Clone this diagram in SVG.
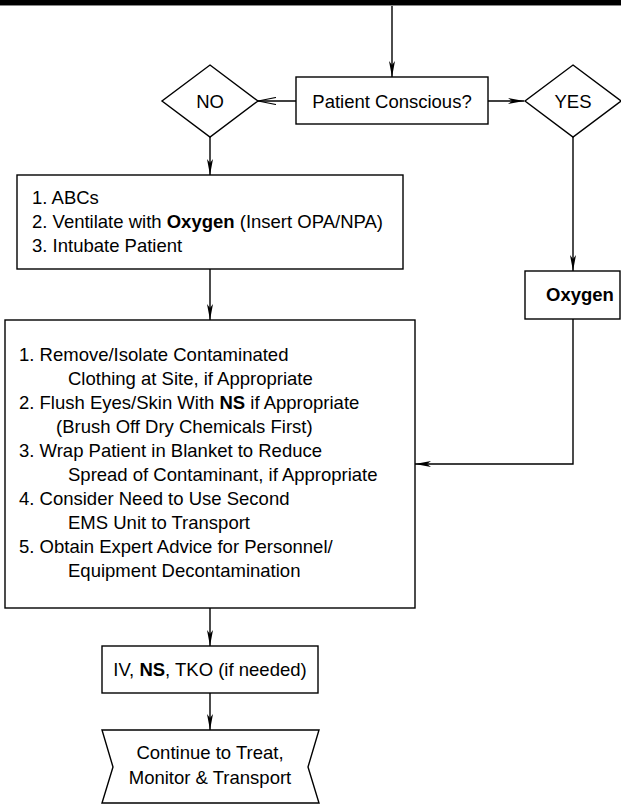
<svg xmlns="http://www.w3.org/2000/svg" width="621" height="804" viewBox="0 0 621 804">
<defs>
<style>
.box{fill:#fff;stroke:#000;stroke-width:1.4}
.ln{fill:none;stroke:#000;stroke-width:1.4}
text{font-family:"Liberation Sans",Arial,sans-serif;font-size:18.5px;fill:#000}
.c{text-anchor:middle}
.b{font-weight:bold}
</style>
<marker id="ah" viewBox="0 0 16 6" refX="16" refY="3" markerWidth="16" markerHeight="6" markerUnits="userSpaceOnUse" orient="auto">
<path d="M0,0 L16,3 L0,6 L4,3 z" fill="#000"/>
</marker>
<marker id="oa" viewBox="0 0 18 8" refX="18" refY="4" markerWidth="18" markerHeight="8" markerUnits="userSpaceOnUse" orient="auto">
<path d="M0,0.5 L18,4 L0,7.5" fill="none" stroke="#000" stroke-width="1.2"/>
</marker>
</defs>
<rect x="0" y="0" width="621" height="5" fill="#000"/>
<line x1="0" y1="5.5" x2="621" y2="5.5" stroke="#888" stroke-width="1"/>
<g id="connectors">
<line class="ln" x1="392" y1="6" x2="392" y2="77" marker-end="url(#ah)"/>
<line class="ln" x1="296" y1="101" x2="258" y2="101" marker-end="url(#oa)"/>
<line class="ln" x1="488" y1="101" x2="524" y2="101" marker-end="url(#ah)"/>
<line class="ln" x1="210" y1="137" x2="210" y2="175" marker-end="url(#ah)"/>
<line class="ln" x1="573" y1="137" x2="573" y2="271" marker-end="url(#ah)"/>
<line class="ln" x1="210" y1="269" x2="210" y2="320" marker-end="url(#ah)"/>
<polyline class="ln" points="573,319 573,464 415,464" marker-end="url(#ah)"/>
<line class="ln" x1="210" y1="608" x2="210" y2="646" marker-end="url(#ah)"/>
<line class="ln" x1="210" y1="693" x2="210" y2="730" marker-end="url(#ah)"/>
</g>
<g id="patient-conscious">
<rect class="box" x="296" y="77" width="192" height="47"/>
<text class="c" x="392" y="107.5">Patient Conscious?</text>
</g>
<g id="no">
<polygon class="box" points="210,65 258,101 210,137 162,101"/>
<text class="c" x="210" y="107.5">NO</text>
</g>
<g id="yes">
<polygon class="box" points="573,65 621,101 573,137 525,101"/>
<text class="c" x="573" y="107.5">YES</text>
</g>
<g id="abcs">
<rect class="box" x="17" y="175" width="386" height="94"/>
<text x="32" y="203.5">1. ABCs</text>
<text x="32" y="227.5">2. Ventilate with <tspan class="b">Oxygen</tspan> (Insert OPA/NPA)</text>
<text x="32" y="251.5">3. Intubate Patient</text>
</g>
<g id="oxygen">
<rect class="box" x="525" y="271" width="95" height="48"/>
<text class="b" x="546" y="301">Oxygen</text>
</g>
<g id="decon">
<rect class="box" x="5" y="320" width="410" height="288"/>
<text x="19" y="361">1. Remove/Isolate Contaminated</text>
<text x="68" y="385">Clothing at Site, if Appropriate</text>
<text x="19" y="409">2. Flush Eyes/Skin With <tspan class="b">NS</tspan> if Appropriate</text>
<text x="56" y="433">(Brush Off Dry Chemicals First)</text>
<text x="19" y="457">3. Wrap Patient in Blanket to Reduce</text>
<text x="68" y="481">Spread of Contaminant, if Appropriate</text>
<text x="19" y="505">4. Consider Need to Use Second</text>
<text x="68" y="529">EMS Unit to Transport</text>
<text x="19" y="553">5. Obtain Expert Advice for Personnel/</text>
<text x="68" y="577">Equipment Decontamination</text>
</g>
<g id="iv">
<rect class="box" x="102" y="646" width="216" height="47"/>
<text class="c" x="210" y="676">IV, <tspan class="b">NS</tspan>, TKO (if needed)</text>
</g>
<g id="continue">
<polygon class="box" points="102,730 319,730 308,767 319,803 102,803 113,767"/>
<text class="c" x="210" y="759">Continue to Treat,</text>
<text class="c" x="210" y="784">Monitor &amp; Transport</text>
</g>
</svg>
